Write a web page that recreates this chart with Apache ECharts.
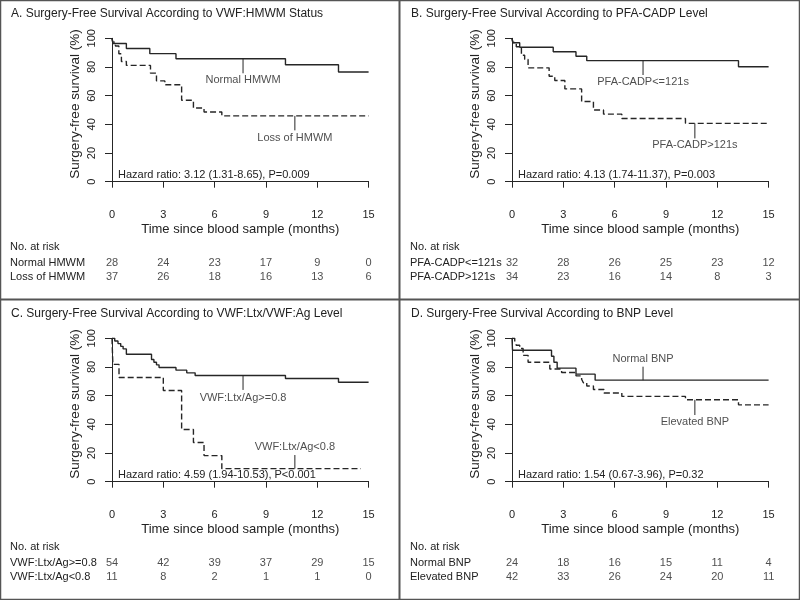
<!DOCTYPE html>
<html><head><meta charset="utf-8">
<script src="https://cdn.jsdelivr.net/npm/echarts@6/dist/echarts.min.js"></script>
<style>html,body{margin:0;padding:0;background:#fff}#c{width:800px;height:600px}</style>
</head><body><div id="c"></div>
<script>
const timeTicks = [0, 3, 6, 9, 12, 15];
const panelTitles = [
  'A. Surgery-Free Survival According to VWF:HMWM Status',
  'B. Surgery-Free Survival According to PFA-CADP Level',
  'C. Surgery-Free Survival According to VWF:Ltx/VWF:Ag Level',
  'D. Surgery-Free Survival According to BNP Level'
];
const hazardTexts = [
  'Hazard ratio: 3.12 (1.31-8.65), P=0.009',
  'Hazard ratio: 4.13 (1.74-11.37), P=0.003',
  'Hazard ratio: 4.59 (1.94-10.53), P<0.001',
  'Hazard ratio: 1.54 (0.67-3.96), P=0.32'
];
const groupNames = [
  ['Normal HMWM', 'Loss of HMWM'],
  ['PFA-CADP<=121s', 'PFA-CADP>121s'],
  ['VWF:Ltx/Ag>=0.8', 'VWF:Ltx/Ag<0.8'],
  ['Normal BNP', 'Elevated BNP']
];
// survival curves: [months, survival %]
const curveA_normal = [[0,100],[0.05,96.4],[0.84,92.9],[2.21,89.3],[3.74,85.7],[10.14,81.6],[13.24,76.5],[15,76.5]];
const curveA_loss = [[0,100],[0.05,97.3],[0.2,94.6],[0.4,89.2],[0.55,83.8],[0.84,81.1],[2.25,75.7],[2.6,70.3],[3.09,67.6],[4.07,56.8],[4.76,51.4],[5.38,48.6],[6.42,45.9],[15,45.9]];
const curveB_low = [[0,100],[0.05,96.9],[0.45,93.8],[2.41,90.6],[3.74,87.5],[4.37,84.4],[13.24,80.2],[15,80.2]];
const curveB_high = [[0,100],[0.05,97.1],[0.25,94.1],[0.55,88.2],[0.74,85.3],[0.94,79.4],[2.17,73.5],[2.5,70.6],[3.09,64.7],[4.07,55.9],[4.76,50.0],[5.35,47.1],[6.42,44.1],[10.14,40.7],[15,40.7]];
const curveC_high = [[0,100],[0.16,98.1],[0.35,96.3],[0.51,94.4],[0.65,92.6],[0.84,88.9],[2.31,85.2],[2.45,83.3],[2.6,81.5],[2.75,79.6],[3.74,77.8],[4.37,75.9],[4.86,74.1],[10.14,72.0],[13.24,69.3],[15,69.3]];
const curveC_low = [[0,100],[0.05,81.8],[0.41,72.7],[3.0,63.6],[4.07,36.4],[4.76,27.3],[5.38,18.2],[6.42,9.1],[14.55,9.1]];
const curveD_normal = [[0,100],[0.03,91.7],[2.31,87.5],[2.45,83.3],[2.64,79.2],[3.74,75.0],[4.86,70.8],[15,70.8]];
const curveD_elev = [[0,100],[0.16,97.6],[0.25,95.2],[0.45,92.9],[0.65,88.1],[0.94,83.3],[2.21,78.6],[2.9,76.2],[3.74,73.8],[4.07,71.4],[4.17,69.0],[4.37,66.7],[4.76,64.3],[5.38,61.9],[6.42,59.5],[10.14,57.1],[13.24,53.6],[15,53.6]];
// curve label pointers: [x, lineStart, lineEnd, labelY]
const pointers = [
  [[7.66, 85.7, 75.6, 70.9], [10.69, 45.9, 35.8, 30.2]],
  [[7.66, 84.4, 74.4, 69.8], [10.69, 40.7, 30.2, 25.6]],
  [[7.66, 74.1, 64.0, 58.1], [10.69, 9.1, 18.6, 24.4]],
  [[7.66, 70.8, 80.2, 85.6], [10.69, 57.1, 46.5, 41.4]]
];
const riskA = [[28,24,23,17,9,0],[37,26,18,16,13,6]];
const riskB = [[32,28,26,25,23,12],[34,23,16,14,8,3]];
const riskC = [[54,42,39,37,29,15],[11,8,2,1,1,0]];
const riskD = [[24,18,16,15,11,4],[42,33,26,24,20,11]];

const curves = [[curveA_normal, curveA_loss],[curveB_low, curveB_high],[curveC_high, curveC_low],[curveD_normal, curveD_elev]];
const risks = [riskA, riskB, riskC, riskD];

const FONT = '"Liberation Sans", Arial, Helvetica, sans-serif';
const TXT = '#222';
const LN = '#262626';
const offsets = [[0,0],[400,0],[0,300],[400,300]];

const grids = [], xAxes = [], yAxes = [], series = [], graphics = [];
offsets.forEach(([ox, oy], i) => {
  grids[i] = {left: ox + 112, top: oy + 38.3, width: 256.6, height: 143.4};
  xAxes[i] = {gridIndex: i, type: 'value', min: 0, max: 15, interval: 3, offset: 11,
    axisLine: {show: true, lineStyle: {color: LN, width: 1}},
    axisTick: {show: true, length: 6, lineStyle: {color: LN}},
    axisLabel: {fontSize: 11, color: TXT, margin: 17, fontFamily: FONT},
    splitLine: {show: false},
    name: 'Time since blood sample (months)', nameLocation: 'middle', nameGap: 30,
    nameTextStyle: {fontSize: 13, color: TXT, fontFamily: FONT}};
  yAxes[i] = {gridIndex: i, type: 'value', min: 0, max: 100, interval: 20,
    axisLine: {show: true, lineStyle: {color: LN, width: 1}},
    axisTick: {show: true, length: 7, lineStyle: {color: LN}},
    axisLabel: {fontSize: 11, color: TXT, rotate: 90, margin: 15, fontFamily: FONT},
    splitLine: {show: false},
    name: 'Surgery-free survival (%)', nameLocation: 'middle', nameGap: 30,
    nameTextStyle: {fontSize: 13.5, color: TXT, fontFamily: FONT, padding: [0, 0, 0, 12]}};
  curves[i].forEach((c, k) => {
    series.push({type: 'line', xAxisIndex: i, yAxisIndex: i, data: c, step: 'end',
      showSymbol: false, symbol: 'none', silent: true,
      lineStyle: {color: LN, width: 1.4, type: k === 0 ? 'solid' : [6, 3]}});
  });
  pointers[i].forEach((p) => {
    series.push({type: 'line', xAxisIndex: i, yAxisIndex: i, data: [[p[0], p[1]], [p[0], p[2]]],
      showSymbol: false, symbol: 'none', silent: true, lineStyle: {color: LN, width: 1}});
  });
  series.push({type: 'scatter', xAxisIndex: i, yAxisIndex: i, symbolSize: 1, silent: true,
    itemStyle: {color: 'rgba(0,0,0,0)'},
    label: {show: true, position: 'inside', formatter: (d) => d.name, fontSize: 11, color: TXT, fontFamily: FONT},
    data: pointers[i].map((p, k) => ({name: groupNames[i][k], value: [p[0], p[3]]}))});
  // risk table
  const gi = 4 + i;
  grids[gi] = {left: ox + 112, top: oy + 256, width: 256.6, height: 28.6};
  xAxes[gi] = {gridIndex: gi, type: 'value', min: 0, max: 15, show: false};
  yAxes[gi] = {gridIndex: gi, type: 'category', data: groupNames[i], inverse: true,
    axisLine: {show: false}, axisTick: {show: false}, splitLine: {show: false},
    axisLabel: {align: 'left', margin: 102, fontSize: 11, color: TXT, fontFamily: FONT}};
  const rd = [];
  risks[i].forEach((row, g) => row.forEach((n, j) => rd.push([timeTicks[j], groupNames[i][g], n])));
  series.push({type: 'scatter', xAxisIndex: gi, yAxisIndex: gi, symbolSize: 1, silent: true,
    itemStyle: {color: 'rgba(0,0,0,0)'},
    label: {show: true, position: 'inside', formatter: (d) => String(d.value[2]), fontSize: 11, color: TXT, fontFamily: FONT},
    data: rd});
  graphics.push({type: 'text', left: ox + 11, top: oy + 8, style: {text: panelTitles[i], font: '12px ' + FONT, fill: TXT}});
  graphics.push({type: 'text', left: ox + 118, top: oy + 169, style: {text: hazardTexts[i], font: '11px ' + FONT, fill: TXT}});
  graphics.push({type: 'text', left: ox + 10, top: oy + 241.5, style: {text: 'No. at risk', font: '11px ' + FONT, fill: TXT}});
});
graphics.push({type: 'rect', shape: {x: 0.5, y: 0.5, width: 799, height: 599}, style: {fill: 'none', stroke: '#555', lineWidth: 1.5}});
graphics.push({type: 'line', shape: {x1: 399.5, y1: 0, x2: 399.5, y2: 600}, style: {stroke: '#555', lineWidth: 2}});
graphics.push({type: 'line', shape: {x1: 0, y1: 299.5, x2: 800, y2: 299.5}, style: {stroke: '#555', lineWidth: 2}});

const chart = echarts.init(document.getElementById('c'), null, {renderer: 'canvas'});
chart.setOption({animation: false, backgroundColor: '#fff', textStyle: {fontFamily: FONT},
  grid: grids, xAxis: xAxes, yAxis: yAxes, series: series, graphic: graphics});
</script></body></html>
